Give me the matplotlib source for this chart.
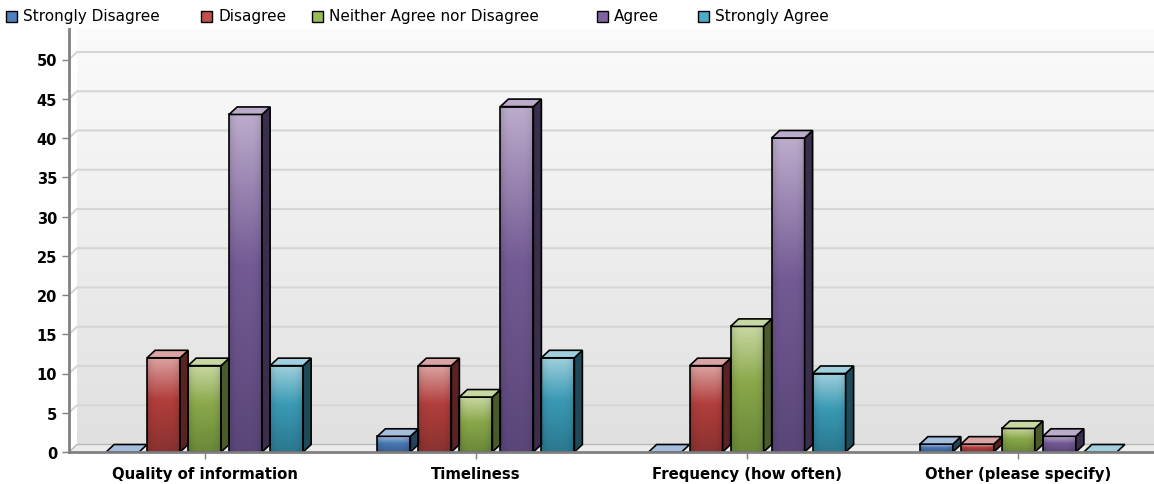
import numpy as np
import matplotlib
matplotlib.use("Agg")
import matplotlib.pyplot as plt
from matplotlib.patches import Polygon, Rectangle
from matplotlib.colors import to_rgb

# dados do gráfico
categorias = ["Quality of information", "Timeliness", "Frequency (how often)", "Other (please specify)"]
series = ["Strongly Disagree", "Disagree", "Neither Agree nor Disagree", "Agree", "Strongly Agree"]
strongly_disagree = [0, 2, 0, 1]
disagree = [12, 11, 11, 1]
neither = [11, 7, 16, 3]
agree = [43, 44, 40, 2]
strongly_agree = [11, 12, 10, 0]
valores = [strongly_disagree, disagree, neither, agree, strongly_agree]
yticks = list(range(0, 55, 5))

# cores: (topo, meio, base, lateral, legenda)
cores = [
    ("#a4bede", "#4a78b2", "#3a5f92", "#28405a", "#4f7fbd"),
    ("#dba4a2", "#b23e3c", "#8a3230", "#5a2222", "#c0504d"),
    ("#c8d8a2", "#8aa84a", "#6a8838", "#4a5a28", "#9bbb59"),
    ("#bcaccc", "#735a94", "#5a4678", "#3a2e4c", "#8064a2"),
    ("#a0d0de", "#3a9ab4", "#2a7890", "#1e4a58", "#4bacc6"),
]

W, H = 1154, 485
fig = plt.figure(figsize=(W / 100, H / 100), dpi=100)
ax = fig.add_axes([69 / W, 32 / H, 1085 / W, 423 / H])
ytop = 423 / 7.85
dx = 8 / 271.25
dy = 7.5 / 7.85
passo = 41 / 271.25
largura = 33 / 271.25


def gradiente(c_topo, c_meio, c_base, n=100, m=20):
    t = np.linspace(0, 1, n)
    stops = [0, 0.45, 1]
    cs = np.array([to_rgb(c_topo), to_rgb(c_meio), to_rgb(c_base)])
    col = np.stack([np.interp(t, stops, cs[:, k]) for k in range(3)], axis=1)
    u = np.linspace(-1, 1, m)
    fator = 1 - 0.13 * np.abs(u) ** 4
    img = col[:, None, :] * fator[None, :, None]
    return np.clip(img, 0, 1)


# fundo (parede de trás)
fundo = np.linspace(0, 1, 200)[:, None] * np.ones((1, 2))
c1, c2 = np.array(to_rgb("#fbfbfb")), np.array(to_rgb("#e0e0e0"))
img_fundo = c1[None, None, :] * (1 - fundo[..., None]) + c2[None, None, :] * fundo[..., None]
ax.imshow(img_fundo, extent=(-0.5 + dx, 3.5, dy, ytop), aspect="auto", zorder=0, origin="upper")

# chão
ax.add_patch(Polygon([(-0.5, 0), (3.5, 0), (3.5, dy), (-0.5 + dx, dy)], closed=True,
                     facecolor="#ececec", edgecolor="none", zorder=1))
ax.plot([-0.5, -0.5 + dx, 3.5], [0, dy, dy], color="#b8b8b8", lw=1, zorder=1)

# linhas de grade
for y in yticks[1:]:
    ax.plot([-0.5, -0.5 + dx, 3.5], [y, y + dy, y + dy], color="#d6d6d6", lw=1.5, zorder=1)

# barras 3D
for i, serie in enumerate(valores):
    topo, meio, base, lateral, _ = cores[i]
    for j, h in enumerate(serie):
        x0 = j + (i - 2) * passo - largura / 2
        x1 = x0 + largura
        if h > 0:
            ax.imshow(gradiente(topo, meio, base), extent=(x0, x1, 0, h), aspect="auto",
                      origin="upper", interpolation="bilinear", zorder=3)
            ax.add_patch(Rectangle((x0, 0), largura, h, facecolor="none", edgecolor="black",
                                   lw=1.2, zorder=4))
            ax.add_patch(Polygon([(x1, 0), (x1 + dx, dy), (x1 + dx, h + dy), (x1, h)], closed=True,
                                 facecolor=lateral, edgecolor="black", lw=1.2, zorder=4))
        ax.add_patch(Polygon([(x0, h), (x1, h), (x1 + dx, h + dy), (x0 + dx, h + dy)], closed=True,
                             facecolor=topo, edgecolor="black", lw=1.2, zorder=4))

# eixos
ax.set_xlim(-0.5, 3.5)
ax.set_ylim(0, ytop)
for lado in ["top", "right"]:
    ax.spines[lado].set_visible(False)
for lado in ["left", "bottom"]:
    ax.spines[lado].set_color("#808080")
    ax.spines[lado].set_linewidth(2)
    ax.spines[lado].set_zorder(5)
ax.set_xticks(range(len(categorias)))
ax.set_xticklabels(categorias, fontweight="bold", fontsize=10.7)
ax.set_yticks(yticks)
ax.set_yticklabels([str(v) for v in yticks], fontweight="bold", fontsize=10.5)
ax.tick_params(axis="both", colors="#808080", length=5, width=1, labelcolor="black")
ax.tick_params(axis="x", pad=5)

# legenda manual no topo
pos_quadrado = [6, 201, 312, 597, 698]
for i, nome in enumerate(series):
    xq = pos_quadrado[i]
    fig.patches.append(Rectangle((xq / W, 1 - 23 / H), 11 / W, 11 / H, transform=fig.transFigure,
                                 facecolor=cores[i][4], edgecolor="black", lw=1))
    fig.text((xq + 17) / W, 1 - 17 / H, nome, fontsize=11, va="center", ha="left")

fig.savefig("out.png", dpi=100)
